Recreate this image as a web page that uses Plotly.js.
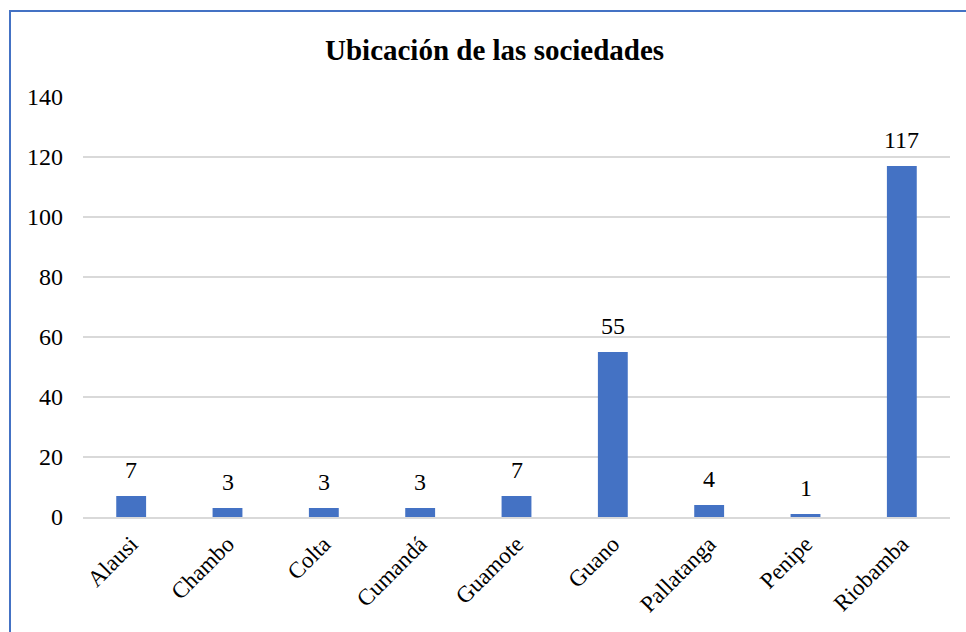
<!DOCTYPE html>
<html>
<head>
<meta charset="utf-8">
<script src="https://cdn.plot.ly/plotly-3.0.1.min.js"></script>
<style>
  html, body { margin: 0; padding: 0; background: #ffffff; }
  #chart { width: 966px; height: 632px; }
</style>
</head>
<body>
<div id="chart"></div>
<script>
const categories = ["Alausi", "Chambo", "Colta", "Cumandá", "Guamote", "Guano", "Pallatanga", "Penipe", "Riobamba"];
const values = [7, 3, 3, 3, 7, 55, 4, 1, 117];
const yTicks = [0, 20, 40, 60, 80, 100, 120, 140];
const chartTitle = "Ubicación de las sociedades";

const serif = 'Liberation Serif, Times New Roman, serif';
const W = 966, H = 632;
const M = { l: 83, r: 16, t: 97, b: 115 };
const pw = W - M.l - M.r, ph = H - M.t - M.b;
const px = x => (x - M.l) / pw;
const py = y => (H - M.b - y) / ph;

const trace = {
  type: 'bar',
  x: categories,
  y: values,
  marker: { color: '#4472C4' },
  hoverinfo: 'x+y'
};

const labels = categories.map((c, i) => ({
  x: c, y: values[i], xref: 'x', yref: 'y',
  text: String(values[i]),
  showarrow: false,
  yanchor: 'bottom',
  yshift: 11,
  font: { family: serif, size: 24, color: '#000000' }
}));

const layout = {
  width: W, height: H,
  margin: M,
  paper_bgcolor: '#ffffff',
  plot_bgcolor: '#ffffff',
  showlegend: false,
  bargap: 0.69,
  font: { family: serif, size: 24, color: '#000000' },
  title: {
    text: '<b>' + chartTitle + '</b>',
    font: { family: serif, size: 29, color: '#000000' },
    x: 0.512, xanchor: 'center',
    y: 1 - 50 / H, yref: 'container', yanchor: 'middle'
  },
  xaxis: {
    type: 'category',
    tickangle: -45,
    showline: true, linecolor: '#D9D9D9', linewidth: 1.5,
    showgrid: false,
    ticks: '',
    ticklabelstandoff: 3,
    tickfont: { family: serif, size: 23, color: '#000000' },
    automargin: false
  },
  yaxis: {
    range: [0, 140],
    tickvals: yTicks,
    ticktext: yTicks.map(String),
    showgrid: true, gridcolor: '#D9D9D9', gridwidth: 1.5,
    zeroline: false,
    showline: false,
    ticks: '',
    ticklabelstandoff: 19,
    tickfont: { family: serif, size: 24, color: '#000000' },
    automargin: false
  },
  annotations: labels,
  shapes: [
    {
      type: 'path', xref: 'paper', yref: 'paper',
      path: 'M ' + px(10) + ' ' + py(640) + ' L ' + px(10) + ' ' + py(11) + ' L ' + px(975) + ' ' + py(11),
      line: { color: '#4472C4', width: 2 }
    }
  ]
};

Plotly.newPlot('chart', [trace], layout, { displayModeBar: false, staticPlot: true });
</script>
</body>
</html>
